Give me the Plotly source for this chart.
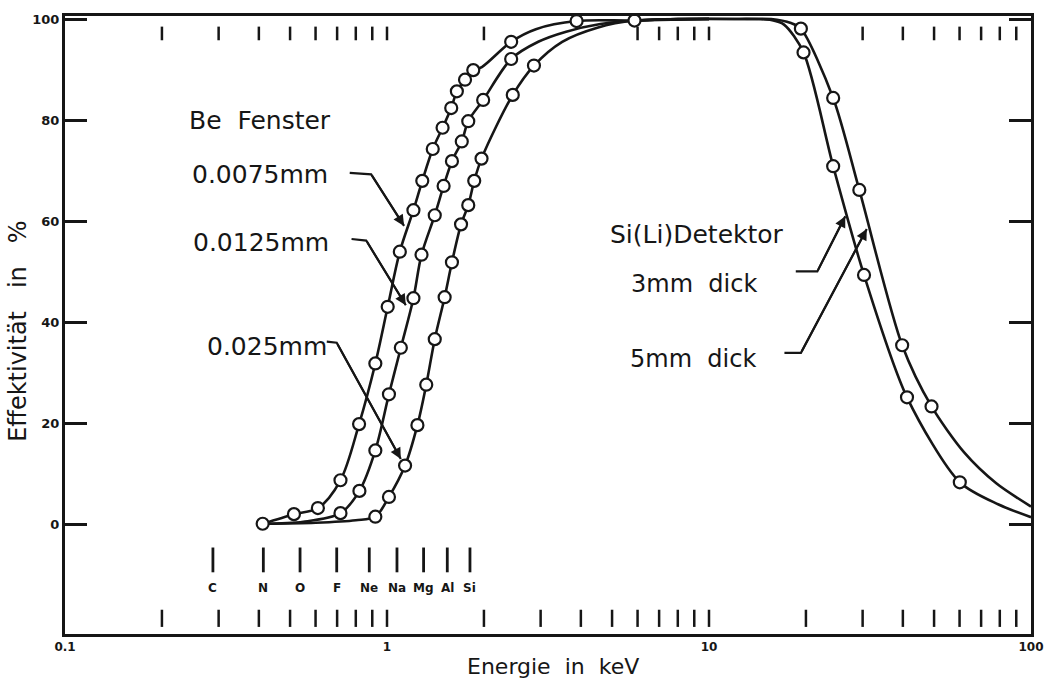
import numpy as np
import plotly.graph_objects as go

# ---------------- data ----------------
# Be window 0.0075 mm
be1_e = [0.411, 0.514, 0.610, 0.717, 0.819, 0.920, 1.005, 1.096, 1.208, 1.287, 1.387, 1.488,
         1.583, 1.648, 1.747, 1.853, 1.970, 2.43, 2.90, 3.88, 5.87, 10.0]
be1_eff = [0.2, 2.1, 3.3, 8.8, 19.9, 31.9, 43.1, 54.0, 62.2, 68.0, 74.3, 78.5,
           82.4, 85.7, 88.0, 89.9, 90.5, 95.5, 98.0, 99.6, 99.7, 100.0]
be1_mk_e = [0.514, 0.610, 0.717, 0.819, 0.920, 1.005, 1.096, 1.208, 1.287, 1.387, 1.488,
            1.583, 1.648, 1.747, 1.853, 2.43, 3.88]
be1_mk_eff = [2.1, 3.3, 8.8, 19.9, 31.9, 43.1, 54.0, 62.2, 68.0, 74.3, 78.5,
              82.4, 85.7, 88.0, 89.9, 95.5, 99.6]

# Be window 0.0125 mm
be2_e = [0.411, 0.55, 0.717, 0.821, 0.920, 1.014, 1.104, 1.208, 1.280, 1.407, 1.499, 1.591,
         1.707, 1.788, 1.989, 2.43, 2.95, 3.6, 4.6, 5.87, 10.0]
be2_eff = [0.2, 0.6, 2.3, 6.7, 14.7, 25.8, 35.0, 44.8, 53.4, 61.2, 67.0, 71.9,
           75.8, 79.8, 84.0, 92.1, 95.5, 97.5, 99.0, 99.7, 100.0]
be2_mk_e = [0.717, 0.821, 0.920, 1.014, 1.104, 1.208, 1.280, 1.407, 1.499, 1.591,
            1.707, 1.788, 1.989, 2.43]
be2_mk_eff = [2.3, 6.7, 14.7, 25.8, 35.0, 44.8, 53.4, 61.2, 67.0, 71.9,
              75.8, 79.8, 84.0, 92.1]

# Be window 0.025 mm
be3_e = [0.411, 0.6, 0.8, 0.920, 1.014, 1.138, 1.243, 1.324, 1.407, 1.510, 1.591, 1.698,
         1.788, 1.866, 1.966, 2.458, 2.86, 3.5, 4.5, 5.87, 10.0]
be3_eff = [0.2, 0.4, 0.9, 1.6, 5.5, 11.7, 19.7, 27.7, 36.7, 45.0, 51.9, 59.4,
           63.2, 68.0, 72.4, 85.0, 90.8, 95.5, 98.3, 99.7, 100.0]
be3_mk_e = [0.920, 1.014, 1.138, 1.243, 1.324, 1.407, 1.510, 1.591, 1.698,
            1.788, 1.866, 1.966, 2.458, 2.86]
be3_mk_eff = [1.6, 5.5, 11.7, 19.7, 27.7, 36.7, 45.0, 51.9, 59.4,
              63.2, 68.0, 72.4, 85.0, 90.8]

# common start / end points
common_mk_e = [0.411, 5.87]
common_mk_eff = [0.2, 99.7]

# Si(Li) detector 3 mm
si3_e = [5.87, 8.0, 12.0, 15.6, 17.1, 19.66, 24.3, 30.3, 41.2, 60.1, 79.3, 100.0]
si3_eff = [99.7, 100.0, 100.0, 99.8, 98.9, 93.4, 70.9, 49.4, 25.2, 8.4, 4.0, 1.5]
si3_mk_e = [19.66, 24.3, 30.3, 41.2, 60.1]
si3_mk_eff = [93.4, 70.9, 49.4, 25.2, 8.4]

# Si(Li) detector 5 mm
si5_e = [5.87, 8.0, 12.0, 15.6, 17.97, 19.29, 24.3, 29.3, 39.8, 49.1, 62.0, 78.0, 100.0]
si5_eff = [99.7, 100.0, 100.0, 100.0, 99.2, 98.1, 84.4, 66.2, 35.5, 23.4, 14.3, 8.2, 3.6]
si5_mk_e = [19.29, 24.3, 29.3, 39.8, 49.1]
si5_mk_eff = [98.1, 84.4, 66.2, 35.5, 23.4]

# element K-lines marked below the curves
elem_names = ["C", "N", "O", "F", "Ne", "Na", "Mg", "Al", "Si"]
elem_e = [0.288, 0.413, 0.537, 0.698, 0.881, 1.074, 1.299, 1.539, 1.81]

# axis tick values / labels
x_tickvals = [0.1, 1, 10, 100]
x_ticktext = ["0.1", "1", "10", "100"]
y_tickvals = [0, 20, 40, 60, 80, 100]
y_ticktext = ["0", "20", "40", "60", "80", "100"]
top_ticks = [0.2, 0.3, 0.4, 0.5, 0.6, 0.7, 0.8, 0.9, 1.0, 2, 6, 7, 8, 9, 10,
             30, 40, 50, 60, 70, 80, 90]
bottom_ticks = [0.2, 0.3, 0.4, 0.5, 0.6, 0.7, 0.8, 0.9, 1.0,
                2, 3, 4, 5, 6, 7, 8, 9, 10,
                20, 30, 40, 50, 60, 70, 80, 90]

INK = "#161616"
FONT = "DejaVu Sans"

fig = go.Figure()


def seg_lines(xs, y0, y1):
    X, Y = [], []
    for v in xs:
        X += [v, v, None]
        Y += [y0, y1, None]
    return X, Y


# detached tick marks
tx, ty = seg_lines(top_ticks, 98.5, 95.8)
fig.add_trace(go.Scatter(x=tx, y=ty, mode="lines", line=dict(color=INK, width=2.5),
                         hoverinfo="skip", showlegend=False))
bx, by = seg_lines(bottom_ticks, -16.8, -20.2)
fig.add_trace(go.Scatter(x=bx, y=by, mode="lines", line=dict(color=INK, width=2.5),
                         hoverinfo="skip", showlegend=False))
ex, ey = seg_lines(elem_e, -4.5, -9.4)
fig.add_trace(go.Scatter(x=ex, y=ey, mode="lines", line=dict(color=INK, width=2.8),
                         hoverinfo="skip", showlegend=False))

# curves
for xs, ys, sm in [(be1_e, be1_eff, 0.9), (be2_e, be2_eff, 0.9), (be3_e, be3_eff, 0.9),
                   (si3_e, si3_eff, 0.8), (si5_e, si5_eff, 0.8)]:
    fig.add_trace(go.Scatter(x=xs, y=ys, mode="lines",
                             line=dict(color=INK, width=2.6, shape="spline", smoothing=sm),
                             hoverinfo="skip", showlegend=False))

# leader lines (horizontal part + diagonal)
leaders = [
    ([0.766, 0.893, 1.13], [69.6, 69.3, 59.1]),
    ([0.776, 0.862, 1.144], [56.5, 56.2, 43.4]),
    ([0.650, 0.698, 1.104], [36.2, 36.0, 13.0]),
    ([18.6, 21.7, 26.5], [50.1, 50.1, 61.0]),
    ([17.15, 19.3, 30.9], [34.0, 34.0, 58.5]),
]
for lx, ly in leaders:
    fig.add_trace(go.Scatter(x=lx, y=ly, mode="lines", line=dict(color=INK, width=2.2),
                             hoverinfo="skip", showlegend=False))

# circles
for xs, ys in [(be1_mk_e, be1_mk_eff), (be2_mk_e, be2_mk_eff), (be3_mk_e, be3_mk_eff),
               (si3_mk_e, si3_mk_eff), (si5_mk_e, si5_mk_eff), (common_mk_e, common_mk_eff)]:
    fig.add_trace(go.Scatter(x=xs, y=ys, mode="markers",
                             marker=dict(symbol="circle", size=12, color="white",
                                         line=dict(color=INK, width=2.2)),
                             hoverinfo="skip", showlegend=False))

annotations = []
# arrow heads on leaders
for lx, ly in leaders:
    annotations.append(dict(x=np.log10(lx[2]), y=ly[2], ax=np.log10(lx[1]), ay=ly[1],
                            xref="x", yref="y", axref="x", ayref="y", text="",
                            showarrow=True, arrowhead=2, arrowsize=1.1, arrowwidth=2,
                            arrowcolor=INK, standoff=0))

# label texts
labels = [
    ("Be  Fenster", 0.402, 80.0, 25),
    ("0.0075mm", 0.402, 69.2, 25),
    ("0.0125mm", 0.405, 55.9, 25),
    ("0.025mm", 0.4225, 35.2, 25),
    ("Si(Li)Detektor", 9.18, 57.4, 25),
    ("3mm  dick", 9.00, 47.6, 24),
    ("5mm  dick", 8.95, 32.8, 24),
]
for t, xe, ye, fs in labels:
    annotations.append(dict(x=np.log10(xe), y=ye, xref="x", yref="y", text=t,
                            showarrow=False, xanchor="center", yanchor="middle",
                            font=dict(family=FONT, size=fs, color=INK)))

for name, e in zip(elem_names, elem_e):
    annotations.append(dict(x=np.log10(e), y=-12.6, xref="x", yref="y", text=name,
                            showarrow=False, xanchor="center", yanchor="middle",
                            font=dict(family=FONT, size=12, color=INK, weight="bold")))

# axis titles
annotations.append(dict(x=0.505, y=-0.052, xref="paper", yref="paper",
                        text="Energie  in  keV", showarrow=False,
                        xanchor="center", yanchor="middle",
                        font=dict(family=FONT, size=22, color=INK)))
annotations.append(dict(x=-0.048, y=0.49, xref="paper", yref="paper",
                        text="Effektivität   in   %", showarrow=False, textangle=-90,
                        xanchor="center", yanchor="middle",
                        font=dict(family=FONT, size=24, color=INK)))

fig.update_layout(
    width=1056, height=691,
    margin=dict(l=65, r=16, t=12, b=57),
    paper_bgcolor="white", plot_bgcolor="white",
    annotations=annotations,
    showlegend=False,
)
fig.update_xaxes(type="log", range=[-1, 2], showgrid=False, zeroline=False,
                 showline=True, linecolor=INK, linewidth=3, mirror=True,
                 ticks="", tickvals=x_tickvals, ticktext=x_ticktext,
                 tickfont=dict(family=FONT, size=12, color=INK, weight="bold"))
fig.update_yaxes(range=[-21.6, 100.6], showgrid=False, zeroline=False,
                 showline=True, linecolor=INK, linewidth=3, mirror="ticks",
                 ticks="inside", ticklen=22, tickwidth=3, tickcolor=INK,
                 tickvals=y_tickvals, ticktext=y_ticktext,
                 tickfont=dict(family=FONT, size=13, color=INK, weight="bold"))

fig.write_html("out.html")
